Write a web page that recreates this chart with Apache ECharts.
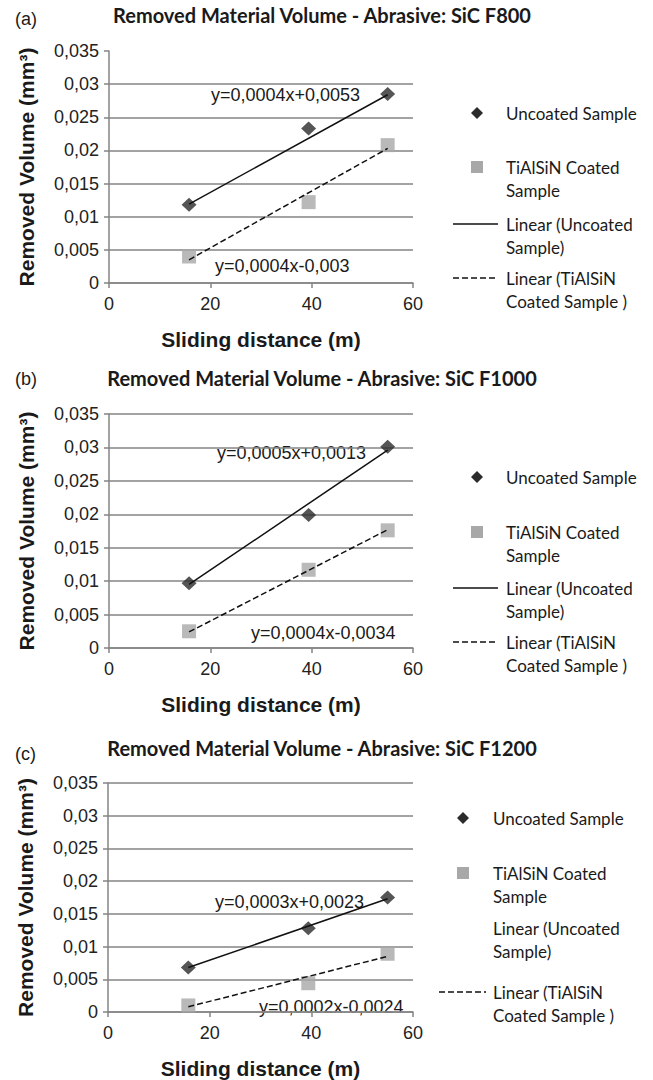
<!DOCTYPE html>
<html>
<head>
<meta charset="utf-8">
<script src="https://cdn.jsdelivr.net/npm/echarts@6/dist/echarts.min.js"></script>
<style>
html,body{margin:0;padding:0;background:#fff;}
#chart{width:653px;height:1080px;}
</style>
</head>
<body>
<div id="chart"></div>
<script>
// ---- data ----
const panelTags = ['(a)', '(b)', '(c)'];
const titles = [
  'Removed Material Volume - Abrasive: SiC F800',
  'Removed Material Volume - Abrasive: SiC F1000',
  'Removed Material Volume - Abrasive: SiC F1200'
];
const slidingDistance = [15.8, 39.4, 55];
const uncoatedA = [0.0118, 0.0233, 0.0285];
const coatedA   = [0.0040, 0.0122, 0.0208];
const uncoatedB = [0.0097, 0.0199, 0.0301];
const coatedB   = [0.0025, 0.0117, 0.0176];
const uncoatedC = [0.0068, 0.0128, 0.0175];
const coatedC   = [0.0010, 0.0044, 0.0089];
// trendline end points (x and y) as drawn
const trendX = [15.8, 55];
const trendUncoatedA = [0.0119, 0.0284];
const trendCoatedA   = [0.0035, 0.0203];
const trendUncoatedB = [0.0095, 0.0296];
const trendCoatedB   = [0.0024, 0.0177];
const trendUncoatedC = [0.0068, 0.0173];
const trendCoatedC   = [0.0008, 0.0085];
const eqUncoated = ['y=0,0004x+0,0053', 'y=0,0005x+0,0013', 'y=0,0003x+0,0023'];
const eqCoated   = ['y=0,0004x-0,003', 'y=0,0004x-0,0034', 'y=0,0002x-0,0024'];
const legendNames = ['Uncoated Sample', 'TiAlSiN Coated\nSample', 'Linear (Uncoated\nSample)', 'Linear (TiAlSiN\nCoated Sample )'];
const xTicks = {min: 0, max: 60, interval: 20};
const yTicks = {min: 0, max: 0.035, interval: 0.005};

// ---- layout ----
const grids = [
  {left: 109, top: 51, width: 304, height: 232},
  {left: 109, top: 414, width: 304, height: 234},
  {left: 108, top: 783, width: 305, height: 236}
];
const titleY = [15, 378, 748];
const tagY = [20, 380, 755];
const eqPos = [
  [[211, 95], [215, 266]],
  [[217, 453], [251, 633]],
  [[215, 902], [259, 1007]]
];
const legendLayout = [
  {sx: 477, lx1: 453, lx2: 498, tx: 506, ys: [113, 167, 224, 278], showLine3: true},
  {sx: 477, lx1: 453, lx2: 498, tx: 506, ys: [477, 532, 588, 642], showLine3: true},
  {sx: 463, lx1: 439, lx2: 486, tx: 493, ys: [818, 873, 928, 992], showLine3: false}
];

const unc = [uncoatedA, uncoatedB, uncoatedC];
const coa = [coatedA, coatedB, coatedC];
const tU = [trendUncoatedA, trendUncoatedB, trendUncoatedC];
const tC = [trendCoatedA, trendCoatedB, trendCoatedC];

const DARK = '#2b2b2b', GREY = '#a8a8a8', AXIS = '#858585';
const tickFont = 'Liberation Sans';
const fmtY = v => String(+v.toFixed(3)).replace('.', ',');
const pairs = (xs, ys) => xs.map((x, i) => [x, ys[i]]);

const option = {
  animation: false,
  backgroundColor: '#fff',
  grid: grids.map(g => Object.assign({containLabel: false}, g)),
  xAxis: grids.map((g, i) => ({
    gridIndex: i, type: 'value', min: xTicks.min, max: xTicks.max, interval: xTicks.interval,
    name: 'Sliding distance (m)', nameLocation: 'middle', nameGap: 46,
    nameTextStyle: {fontFamily: tickFont, fontWeight: 'bold', fontSize: 21, color: '#1a1a1a'},
    axisLine: {show: true, onZero: false, lineStyle: {color: AXIS, width: 1.5}},
    axisTick: {show: true, length: 5, lineStyle: {color: AXIS, width: 1.5}},
    axisLabel: {fontFamily: tickFont, fontSize: 18, color: '#222', margin: 12},
    splitLine: {show: false}
  })),
  yAxis: grids.map((g, i) => ({
    gridIndex: i, type: 'value', min: yTicks.min, max: yTicks.max, interval: yTicks.interval,
    name: 'Removed Volume (mm³)', nameLocation: 'middle', nameGap: 72,
    nameTextStyle: {fontFamily: tickFont, fontWeight: 'bold', fontSize: 21, color: '#1a1a1a'},
    axisLine: {show: true, onZero: false, lineStyle: {color: AXIS, width: 1.5}},
    axisTick: {show: true, length: 5, lineStyle: {color: AXIS, width: 1.5}},
    axisLabel: {fontFamily: tickFont, fontSize: 18, color: '#222', margin: 10, formatter: fmtY},
    splitLine: {show: true, showMaxLine: i !== 0, lineStyle: {color: AXIS, width: 1.5}}
  })),
  series: [],
  graphic: []
};

for (let i = 0; i < 3; i++) {
  option.series.push({
    name: 'Linear (Uncoated Sample)', type: 'line', xAxisIndex: i, yAxisIndex: i,
    data: pairs(trendX, tU[i]), symbol: 'none', z: 3,
    lineStyle: {color: '#111', width: 1.5, type: 'solid'}
  });
  option.series.push({
    name: 'Linear (TiAlSiN Coated Sample )', type: 'line', xAxisIndex: i, yAxisIndex: i,
    data: pairs(trendX, tC[i]), symbol: 'none', z: 3,
    lineStyle: {color: '#111', width: 1.5, type: [6, 3]}
  });
  option.series.push({
    name: 'Uncoated Sample', type: 'scatter', xAxisIndex: i, yAxisIndex: i,
    data: pairs(slidingDistance, unc[i]), symbol: 'diamond', symbolSize: [15, 14], z: 2,
    itemStyle: {color: DARK}
  });
  option.series.push({
    name: 'TiAlSiN Coated Sample', type: 'scatter', xAxisIndex: i, yAxisIndex: i,
    data: pairs(slidingDistance, coa[i]), symbol: 'rect', symbolSize: 14, z: 2,
    itemStyle: {color: GREY}
  });

  // panel tag and title
  option.graphic.push({type: 'text', left: 15, top: tagY[i] - 10,
    style: {text: panelTags[i], font: '18px "Liberation Sans"', fill: '#1a1a1a'}});
  option.graphic.push({type: 'text', x: 322, y: titleY[i],
    style: {text: titles[i], font: 'bold 20px Lato', fill: '#1a1a1a', align: 'center', verticalAlign: 'middle'}});

  // trendline equations
  option.graphic.push({type: 'text', x: eqPos[i][0][0], y: eqPos[i][0][1],
    style: {text: eqUncoated[i], font: '18px "Liberation Sans"', fill: '#1a1a1a', verticalAlign: 'middle'}});
  option.graphic.push({type: 'text', x: eqPos[i][1][0], y: eqPos[i][1][1],
    style: {text: eqCoated[i], font: '18px "Liberation Sans"', fill: '#1a1a1a', verticalAlign: 'middle'}});

  // legend
  const L = legendLayout[i];
  option.graphic.push({type: 'polygon', shape: {points: [[L.sx, L.ys[0] - 6], [L.sx + 6, L.ys[0]], [L.sx, L.ys[0] + 6], [L.sx - 6, L.ys[0]]]},
    style: {fill: DARK}});
  option.graphic.push({type: 'rect', shape: {x: L.sx - 6, y: L.ys[1] - 6, width: 12, height: 12}, style: {fill: GREY}});
  if (L.showLine3) {
    option.graphic.push({type: 'line', shape: {x1: L.lx1, y1: L.ys[2], x2: L.lx2, y2: L.ys[2]}, style: {stroke: '#111', lineWidth: 1.5}});
  }
  option.graphic.push({type: 'line', shape: {x1: L.lx1, y1: L.ys[3], x2: L.lx2, y2: L.ys[3]}, style: {stroke: '#111', lineWidth: 1.5, lineDash: [6, 3]}});
  for (let k = 0; k < 4; k++) {
    option.graphic.push({type: 'text', x: L.tx, y: L.ys[k] - 11.5,
      style: {text: legendNames[k], font: '17px Lato', fill: '#1a1a1a', verticalAlign: 'top', lineHeight: 23}});
  }
}

const chart = echarts.init(document.getElementById('chart'), null, {renderer: 'svg'});
chart.setOption(option);
</script>
</body>
</html>
